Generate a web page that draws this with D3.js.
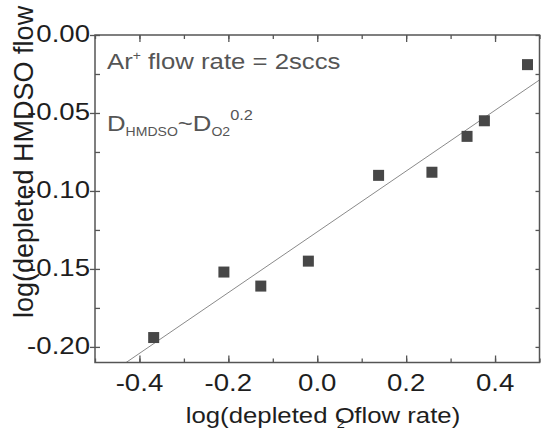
<!DOCTYPE html>
<html>
<head>
<meta charset="utf-8">
<script src="https://cdn.jsdelivr.net/npm/d3@7"></script>
<style>
  body { margin: 0; background: #fff; }
  svg text { font-family: "Liberation Sans", Arial, sans-serif; }
</style>
</head>
<body>
<script>
// log(depleted O2 flow rate) vs log(depleted HMDSO flow rate)
var xVals = [-0.368, -0.210, -0.127, -0.020, 0.138, 0.258, 0.337, 0.376, 0.473];
var yVals = [-0.194, -0.152, -0.161, -0.145, -0.090, -0.088, -0.065, -0.055, -0.019];
var xTicks = [-0.4, -0.2, 0.0, 0.2, 0.4];
var yTicks = [0.00, -0.05, -0.10, -0.15, -0.20];

var W = 542, H = 433;
var margin = {top: 35, right: 2.5, bottom: 70.5, left: 95},
    width = W - margin.left - margin.right,
    height = H - margin.top - margin.bottom;

var x = d3.scaleLinear().domain([-0.5, 0.5]).range([0, width]);
var y = d3.scaleLinear().domain([-0.21, 0.0]).range([height, 0]);

var svg = d3.select("body").append("svg")
    .attr("width", W)
    .attr("height", H);

var g = svg.append("g")
    .attr("transform", "translate(" + margin.left + "," + margin.top + ")");

g.append("clipPath").attr("id", "clip")
  .append("rect").attr("width", width).attr("height", height);

// fitted line (least squares from the points)
var mx = d3.mean(xVals), my = d3.mean(yVals);
var sxy = d3.sum(xVals, function(d, i) { return (d - mx) * (yVals[i] - my); });
var sxx = d3.sum(xVals, function(d) { return (d - mx) * (d - mx); });
var slope = sxy / sxx, icpt = my - slope * mx;

g.append("line")
    .attr("clip-path", "url(#clip)")
    .attr("x1", x(-0.5)).attr("y1", y(icpt - 0.5 * slope))
    .attr("x2", x(0.5)).attr("y2", y(icpt + 0.5 * slope))
    .style("stroke", "#8a8a8a")
    .style("stroke-width", 1);

// axes: ticks only, all pointing in
var fmtNone = function() { return ""; };
var xMinor = d3.range(-0.5, 0.51, 0.1);
var yMinor = d3.range(-0.2, 0.001, 0.025);

function tickStyle(sel) {
  sel.select(".domain").remove();
  sel.selectAll("line").style("stroke", "#555").style("stroke-width", 1.3);
}

g.append("g").attr("transform", "translate(0," + height + ")")
    .call(d3.axisTop(x).tickValues(xMinor).tickSize(4).tickFormat(fmtNone)).call(tickStyle);
g.append("g").attr("transform", "translate(0," + height + ")")
    .call(d3.axisTop(x).tickValues(xTicks).tickSize(7).tickFormat(fmtNone)).call(tickStyle);
g.append("g")
    .call(d3.axisBottom(x).tickValues(xMinor).tickSize(4).tickFormat(fmtNone)).call(tickStyle);
g.append("g")
    .call(d3.axisBottom(x).tickValues(xTicks).tickSize(7).tickFormat(fmtNone)).call(tickStyle);

g.append("g")
    .call(d3.axisRight(y).tickValues(yMinor).tickSize(5).tickFormat(fmtNone)).call(tickStyle);
g.append("g")
    .call(d3.axisLeft(y).tickValues(yTicks).tickSize(5).tickFormat(fmtNone)).call(tickStyle);
g.append("g").attr("transform", "translate(" + width + ",0)")
    .call(d3.axisLeft(y).tickValues(yMinor).tickSize(4).tickFormat(fmtNone)).call(tickStyle);

g.append("rect")
    .attr("width", width).attr("height", height)
    .style("fill", "none").style("stroke", "#555").style("stroke-width", 1.5);

// tick labels
var fx = d3.format(".1f"), fy = d3.format(".2f");
g.selectAll(".xlab").data(xTicks).enter().append("text")
    .attr("class", "xlab")
    .attr("transform", function(d) { return "translate(" + x(d) + "," + (height + 28) + ") scale(1.2,1)"; })
    .style("text-anchor", "middle")
    .style("font-size", "23px")
    .style("fill", "#1e1e1e")
    .text(function(d) { return fx(d).replace("\u2212", "-"); });

g.selectAll(".ylab").data(yTicks).enter().append("text")
    .attr("class", "ylab")
    .attr("transform", function(d) { return "translate(-5," + (y(d) + 7) + ") scale(1.2,1)"; })
    .style("text-anchor", "end")
    .style("font-size", "23px")
    .style("fill", "#1e1e1e")
    .text(function(d) { return fy(d).replace("\u2212", "-"); });

// points
g.selectAll(".dot").data(xVals).enter().append("rect")
    .attr("class", "dot")
    .attr("x", function(d) { return x(d) - 5.5; })
    .attr("y", function(d, i) { return y(yVals[i]) - 5.5; })
    .attr("width", 11).attr("height", 11)
    .style("fill", "#474747");

// axis titles
var xt = svg.append("text")
    .attr("transform", "translate(323,423) scale(1.12,1)")
    .style("text-anchor", "middle")
    .style("font-size", "23px")
    .style("fill", "#1e1e1e");
xt.append("tspan").text("log(depleted O");
xt.append("tspan").attr("dx", -16).attr("dy", 5).style("font-size", "13px").text("2");
xt.append("tspan").attr("dx", 8.5).attr("dy", -5).text("flow rate)");

svg.append("text")
    .attr("transform", "translate(33,318) rotate(-90)")
    .style("text-anchor", "start")
    .style("font-size", "27px")
    .style("fill", "#1e1e1e")
    .text("log(depleted HMDSO flow rate)");

// annotations
var a1 = svg.append("text")
    .attr("transform", "translate(107,69) scale(1.17,1)")
    .style("font-size", "22px")
    .style("fill", "#555");
a1.append("tspan").text("Ar");
a1.append("tspan").attr("dy", -9).style("font-size", "12px").text("+");
a1.append("tspan").attr("dy", 9).text(" flow rate = 2sccs");

var a2 = svg.append("text")
    .attr("transform", "translate(107,131) scale(1.17,1)")
    .style("font-size", "22px")
    .style("fill", "#555");
a2.append("tspan").text("D");
a2.append("tspan").attr("dy", 5).style("font-size", "12px").text("HMDSO");
a2.append("tspan").attr("dy", -5).text("~D");
a2.append("tspan").attr("dy", 5).style("font-size", "12px").text("O2");
a2.append("tspan").attr("dy", -16).style("font-size", "14px").text("0.2");
</script>
</body>
</html>
